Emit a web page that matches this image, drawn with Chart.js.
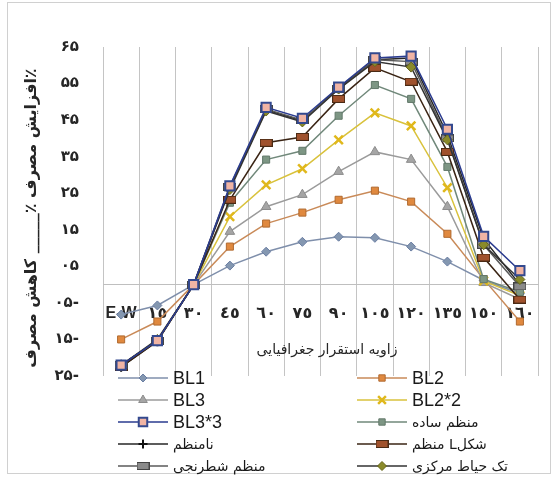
<!DOCTYPE html>
<html>
<head>
<meta charset="utf-8">
<script src="https://cdn.jsdelivr.net/npm/chart.js"></script>
<style>
  html, body { margin: 0; padding: 0; background: #fff; }
  #wrap { width: 554px; height: 477px; position: relative; }
</style>
</head>
<body>
<div id="wrap"><canvas id="chart"></canvas></div>
<script>
// categories (geographic orientation) and axis tick labels
const categories = ['E-W', '١٥', '٣٠', '٤٥', '٦٠', '٧٥', '٩٠', '١٠٥', '١٢٠', '١٣٥', '١٥٠', '١٦٠'];
const yTickValues = [-25, -15, -5, 5, 15, 25, 35, 45, 55, 65];
const yTickLabels = ['۲۵-', '۱۵-', '۰۵-', '۰۵', '۱۵', '۲۵', '۳۵', '۴۵', '۵۵', '۶۵'];
const seriesNames = ['BL1', 'BL2', 'BL3', 'BL2*2', 'BL3*3', 'منظم ساده', 'نامنظم', 'منظم Lشکل', 'منظم شطرنجی', 'تک حیاط مرکزی'];

// series values (% change in consumption)
const bl1       = [-8.2, -5.7, 0, 5.2, 9.0, 11.7, 13.1, 12.8, 10.4, 6.3, 1.2, -2.5];
const bl2       = [-15.0, -10.1, 0, 10.4, 16.7, 19.7, 23.2, 25.7, 22.7, 13.9, 1.5, -10.1];
const bl3       = [-22, -15.3, 0, 14.5, 21.3, 24.6, 30.9, 36.3, 34.2, 21.3, 0.5, -4];
const bl2x2     = [-22, -15.3, 0, 18.6, 27.3, 31.7, 39.6, 47.0, 43.4, 26.5, 1, -3];
const bl3x3     = [-22, -15.3, 0, 27, 48.5, 45.5, 54, 62, 62.5, 42.5, 13.2, 3.8];
const simple    = [-22, -15.3, 0, 22.4, 34.2, 36.6, 46.2, 54.6, 50.8, 32.2, 1.5, -2];
const irregular = [-22.5, -15.5, 0, 26.5, 47.8, 44.8, 53.8, 61.5, 62, 41, 12.5, 0];
const lShape    = [-22.5, -15.5, 0, 23.2, 38.8, 40.4, 50.8, 59.3, 55.5, 36.3, 7.4, -4.1];
const checker   = [-22, -15.3, 0, 26.8, 48, 45, 53.5, 61.5, 61, 40, 10.9, -0.5];
const courtyard = [-22, -15, 0, 26, 47.5, 44.5, 53.5, 61, 59.5, 39.6, 10.9, 1.4];

const xTitle = 'زاویه استقرار جغرافیایی';
const yTitle = '٪افزایش مصرف ٪_____ کاهش مصرف';

const PERSIAN = "'DejaVu Sans', sans-serif";
const LATIN = "'Liberation Sans', 'DejaVu Sans', sans-serif";

// wide flat marker (used by two series)
function makeBar(fill, stroke) {
    const c = document.createElement('canvas');
    c.width = 13; c.height = 8;
    const g = c.getContext('2d');
    g.fillStyle = fill;
    g.fillRect(0.5, 0.5, 12, 7);
    g.strokeStyle = stroke;
    g.lineWidth = 1;
    g.strokeRect(0.5, 0.5, 12, 7);
    return c;
}

const styles = [
    { line: '#7f8fab', bg: '#8497b0', bd: '#6a7ea3', ps: 'rectRot', r: 4.5 },
    { line: '#c98a58', bg: '#e0893f', bd: '#b06a30', ps: 'rect', r: 5 },
    { line: '#9b9b9b', bg: '#a5a5a5', bd: '#8c8c8c', ps: 'triangle', r: 5.5 },
    { line: '#d9c23c', bg: '#e6c229', bd: '#e0b81c', ps: 'crossRot', r: 6, bw: 2.5 },
    { line: '#2a3b8f', bg: '#f0b4a4', bd: '#33498f', ps: 'rect', r: 6.5, bw: 2 },
    { line: '#70887a', bg: '#7d9684', bd: '#62786a', ps: 'rect', r: 5 },
    { line: '#262626', bg: '#111', bd: '#111', ps: 'cross', r: 5, bw: 2 },
    { line: '#3a2414', bg: '#a0522d', bd: '#4a2a14', ps: makeBar('#a0522d', '#4a2a14'), r: 5 },
    { line: '#5a5a5a', bg: '#8a8a8a', bd: '#444', ps: makeBar('#8a8a8a', '#444'), r: 5 },
    { line: '#333', bg: '#8a8a2a', bd: '#66661a', ps: 'rectRot', r: 5 }
];
const seriesData = [bl1, bl2, bl3, bl2x2, bl3x3, simple, irregular, lShape, checker, courtyard];

const datasets = seriesData.map((d, i) => ({
    label: seriesNames[i],
    data: d,
    borderColor: styles[i].line,
    borderWidth: 1.5,
    backgroundColor: styles[i].bg,
    pointBackgroundColor: styles[i].bg,
    pointBorderColor: styles[i].bd,
    pointBorderWidth: styles[i].bw || 1,
    pointStyle: styles[i].ps,
    pointRadius: styles[i].r,
    tension: 0,
    order: i === 4 ? -100 : -i
}));

const decor = {
    id: 'decor',
    beforeDraw(chart) {
        const ctx = chart.ctx;
        ctx.save();
        ctx.fillStyle = '#fff';
        ctx.fillRect(0, 0, chart.width, chart.height);
        ctx.strokeStyle = '#d0d0d0';
        ctx.lineWidth = 1;
        ctx.strokeRect(7.5, 2.5, 543, 471);
        ctx.restore();
    },
    afterDraw(chart) {
        const ctx = chart.ctx;
        ctx.save();
        // axis titles
        ctx.fillStyle = '#262626';
        ctx.textAlign = 'center';
        ctx.textBaseline = 'middle';
        ctx.direction = 'rtl';
        ctx.font = '14px ' + PERSIAN;
        ctx.fillText(xTitle, 327, 350);
        ctx.save();
        ctx.translate(32, 218);
        ctx.rotate(-Math.PI / 2);
        ctx.font = 'bold 16px ' + PERSIAN;
        ctx.fillText(yTitle, 0, 0);
        ctx.restore();

        // two-column legend
        const colX = [118, 357];
        const lineLen = 50;
        const rowY = [378, 400, 422, 444, 466];
        ctx.direction = 'ltr';
        chart.data.datasets.forEach((ds, i) => {
            const x = colX[i % 2], y = rowY[Math.floor(i / 2)];
            ctx.strokeStyle = ds.borderColor;
            ctx.lineWidth = 1.5;
            ctx.beginPath();
            ctx.moveTo(x, y);
            ctx.lineTo(x + lineLen, y);
            ctx.stroke();
            ctx.fillStyle = ds.pointBackgroundColor;
            ctx.strokeStyle = ds.pointBorderColor;
            ctx.lineWidth = ds.pointBorderWidth;
            Chart.helpers.drawPoint(ctx, { pointStyle: ds.pointStyle, radius: ds.pointRadius - 0.5, rotation: 0, borderWidth: ds.pointBorderWidth }, x + lineLen / 2, y);
            ctx.fillStyle = '#1a1a1a';
            ctx.textAlign = 'left';
            ctx.textBaseline = 'middle';
            const latin = /^[A-Za-z]/.test(ds.label);
            ctx.font = latin ? '18px ' + LATIN : '14px ' + PERSIAN;
            ctx.fillText(ds.label, x + lineLen + 5, y + 1);
        });
        ctx.restore();
    }
};

new Chart(document.getElementById('chart'), {
    type: 'line',
    data: { labels: categories, datasets: datasets },
    options: {
        responsive: true,
        maintainAspectRatio: false,
        animation: false,
        layout: { padding: { left: 0, right: 11, top: 47, bottom: 101 } },
        plugins: {
            legend: { display: false },
            tooltip: { enabled: false }
        },
        scales: {
            x: {
                position: { y: 0 },
                offset: true,
                grid: { offset: true, color: '#c4c4c4', drawTicks: false },
                border: { color: '#bfbfbf', width: 1 },
                ticks: {
                    autoSkip: false, maxRotation: 0, minRotation: 0, padding: 19,
                    color: '#262626',
                    font: { family: LATIN, size: 16, weight: 'bold' }
                },
                afterFit: s => { s.height = 0; }
            },
            y: {
                min: -25,
                max: 65,
                grid: { display: false, drawTicks: false },
                border: { display: false },
                ticks: {
                    stepSize: 10,
                    padding: 24,
                    color: '#262626',
                    font: { family: PERSIAN, size: 15, weight: 'bold' },
                    callback: v => yTickLabels[yTickValues.indexOf(v)]
                },
                afterFit: s => { s.width = 103; }
            }
        }
    },
    plugins: [decor]
});
</script>
</body>
</html>
